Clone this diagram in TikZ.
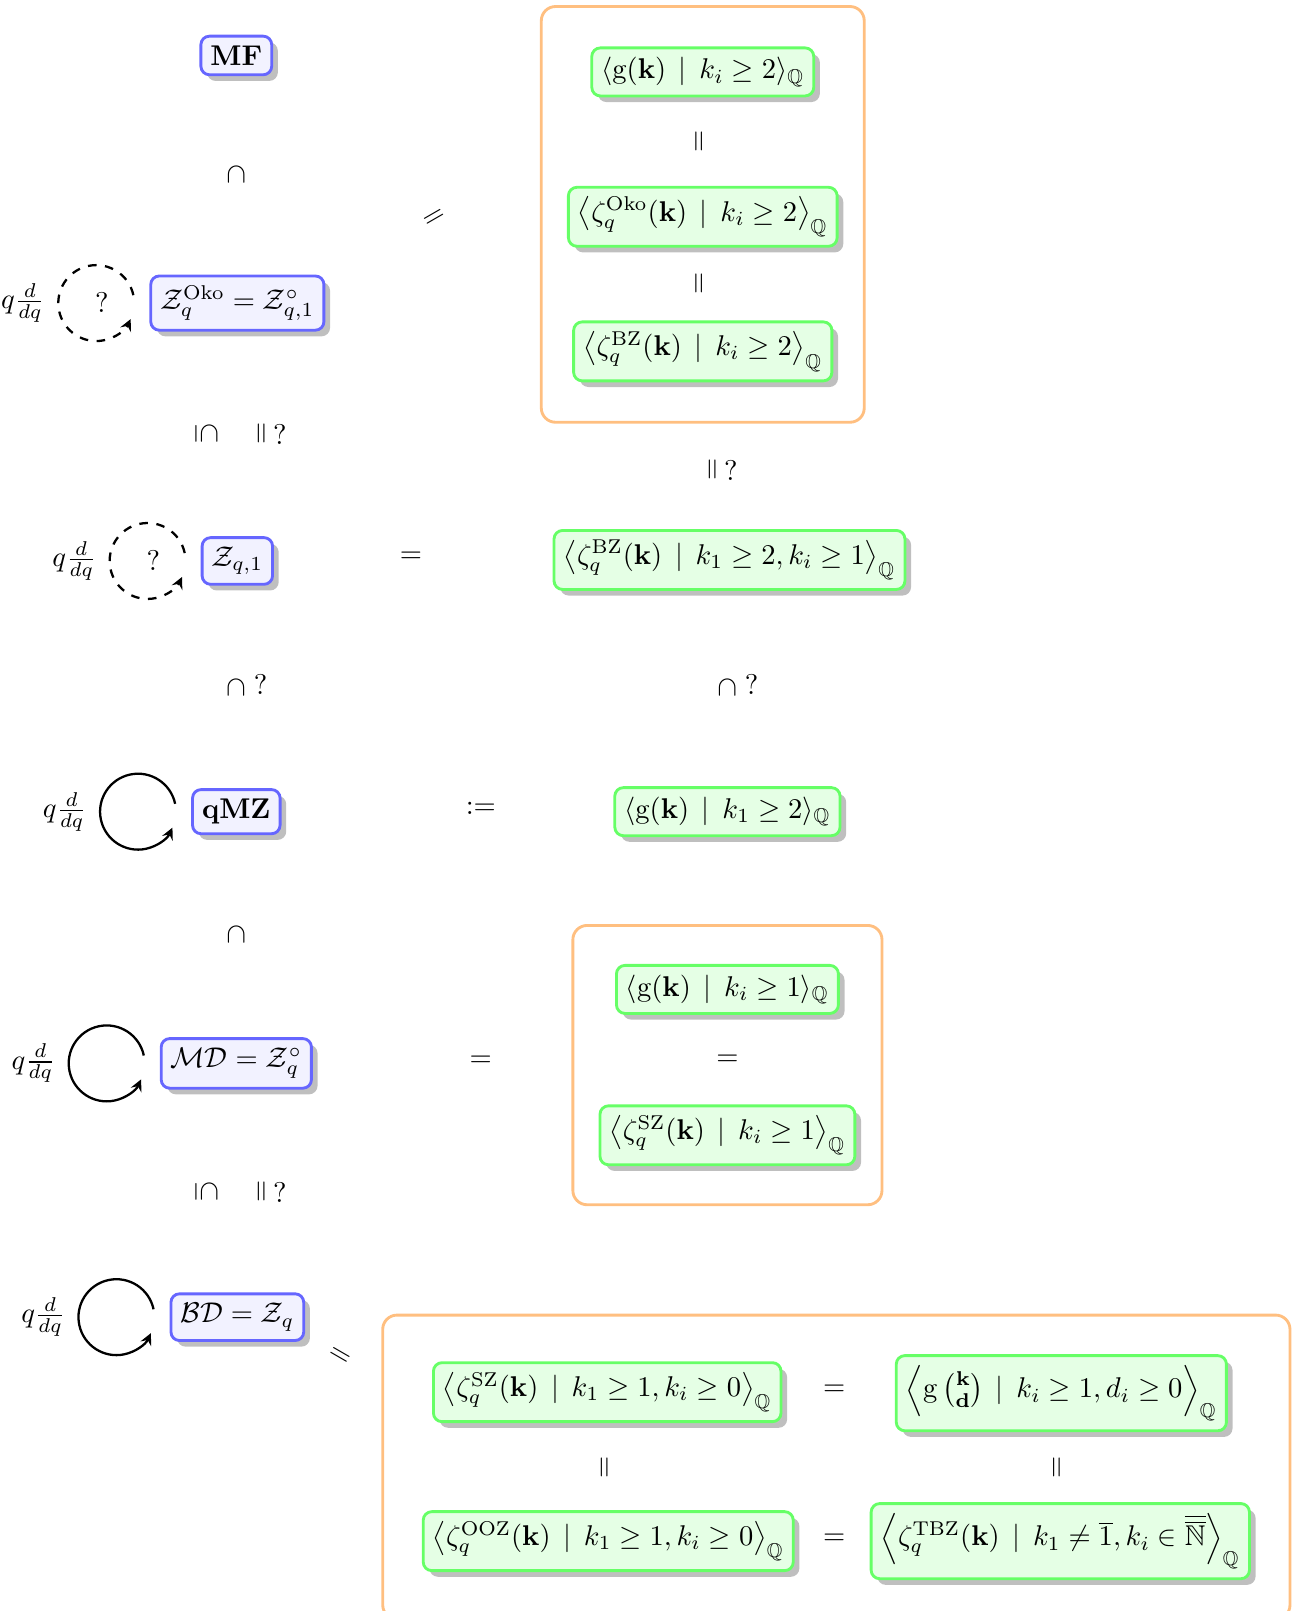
\documentclass[tikz,border=0pt]{standalone}
\usepackage{amsmath,amssymb}
\usepackage{graphicx}
\usepackage{tikz}
\usetikzlibrary{arrows,positioning,shadows,fit}

\newcommand{\capdown}{\rotatebox[origin=c]{-90}{$\subset$}}
\newcommand{\capeqdown}{\rotatebox[origin=c]{-90}{$\subseteq$}}
\newcommand{\equp}{\rotatebox{90}{$=$}}

\begin{document}
\begin{tikzpicture}[x=0.36pt,y=-0.36pt]

\tikzset{space/.style={draw=blue!60,fill=blue!5,line width=1pt,rounded corners=3pt,drop shadow},
         gen/.style={draw=green!60,fill=green!10,line width=1pt,rounded corners=3pt,drop shadow},
         group/.style={draw=orange!50,line width=1pt,rounded corners=5pt},
         turn/.style={thick,-stealth}}

\useasboundingbox (0,0) rectangle (1260,1568);

% the spaces
\node[space] (mf) at (230,54) {$\mathbf{MF}$};
\node[space] (zoko) at (231,295) {$\mathcal{Z}_q^{\mathrm{Oko}} = \mathcal{Z}_{q,1}^{\circ}$};
\node[space] (zqone) at (231,546) {$\mathcal{Z}_{q,1}$};
\node[space] (qmz) at (230,790) {$\mathbf{qMZ}$};
\node[space] (md) at (230,1035) {$\mathcal{MD} = \mathcal{Z}_q^{\circ}$};
\node[space] (bd) at (231,1282) {$\mathcal{BD} = \mathcal{Z}_q$};

\node (incl1) at (230,170) {$\capdown$};
\node (incl2) at (201,422) {$\capeqdown$};
\node (eq2) at (265,422) {$\equp\,?$};
\node (incl3) at (241,668) {$\capdown$ ?};
\node (incl4) at (230,910) {$\capdown$};
\node (incl5) at (201,1160) {$\capeqdown$};
\node (eq5) at (265,1160) {$\equp\,?$};

% q d/dq loops
\foreach \s/\c/\st in {zoko/c2/dashed,zqone/c3/dashed,qmz/c4/solid,md/c5/solid,bd/c6/solid}{
  \coordinate (\c) at ([xshift=-18.6pt]\s.west);
  \draw[turn,\st] ([shift={(12:13.3pt)}]\c) arc[start angle=12,end angle=335,radius=13.3pt];
  \node[anchor=east] (d\c) at ([xshift=-14.5pt]\c) {$q\frac{d}{dq}$};
}
\node (q2) at ([xshift=2pt]c2) {$?$};
\node (q3) at ([xshift=2pt]c3) {$?$};

% generators, top group
\node[gen] (gkitwo) at (684,70) {$\langle \mathrm{g}(\mathbf{k}) \,\mid\, k_i \geq 2\rangle_{\mathbb{Q}}$};
\node (v1) at (682,138) {$\equp$};
\node[gen] (okoz) at (684,211) {$\left\langle \zeta_q^{\mathrm{Oko}}(\mathbf{k}) \,\mid\, k_i \geq 2\right\rangle_{\mathbb{Q}}$};
\node (v2) at (682,276) {$\equp$};
\node[gen] (bzz) at (684,342) {$\left\langle \zeta_q^{\mathrm{BZ}}(\mathbf{k}) \,\mid\, k_i \geq 2\right\rangle_{\mathbb{Q}}$};
\node[group,inner xsep=9pt,inner ysep=14pt,fit=(gkitwo)(okoz)(bzz)] (top) {};
\node[rotate=30] (s1) at (423,213) {$=$};

\node (v3) at (704,457) {$\equp\,?$};
\node (eq3) at (400,542) {$=$};
\node[gen] (bzone) at (710,545) {$\left\langle \zeta_q^{\mathrm{BZ}}(\mathbf{k}) \,\mid\, k_1 \geq 2, k_i \geq 1\right\rangle_{\mathbb{Q}}$};
\node (incl6) at (719,668) {$\capdown$ ?};
\node (def4) at (468,787) {$:=$};
\node[gen] (gkone) at (708,790) {$\langle \mathrm{g}(\mathbf{k}) \,\mid\, k_1 \geq 2\rangle_{\mathbb{Q}}$};

% middle group
\node (eq5r) at (468,1033) {$=$};
\node[gen] (gkione) at (708,963) {$\langle \mathrm{g}(\mathbf{k}) \,\mid\, k_i \geq 1\rangle_{\mathbb{Q}}$};
\node (v4) at (708,1032) {$=$};
\node[gen] (szone) at (708,1105) {$\left\langle \zeta_q^{\mathrm{SZ}}(\mathbf{k}) \,\mid\, k_i \geq 1\right\rangle_{\mathbb{Q}}$};
\node[group,inner xsep=9pt,inner ysep=13.5pt,fit=(gkione)(szone)] (mid) {};

% bottom group
\node[rotate=-30] (s2) at (330,1320) {$=$};
\node[gen] (szzero) at (591,1355) {$\left\langle \zeta_q^{\mathrm{SZ}}(\mathbf{k}) \,\mid\, k_1 \geq 1, k_i \geq 0\right\rangle_{\mathbb{Q}}$};
\node (h1) at (812,1353) {$=$};
\node[gen] (gkd) at (1033,1356) {$\left\langle \mathrm{g}\,\tbinom{\mathbf{k}}{\mathbf{d}} \,\mid\, k_i \geq 1, d_i \geq 0\right\rangle_{\mathbb{Q}}$};
\node (v5) at (590,1428) {$\equp$};
\node (v6) at (1030,1428) {$\equp$};
\node[gen] (ooz) at (592,1500) {$\left\langle \zeta_q^{\mathrm{OOZ}}(\mathbf{k}) \,\mid\, k_1 \geq 1, k_i \geq 0\right\rangle_{\mathbb{Q}}$};
\node (h2) at (812,1498) {$=$};
\node[gen] (tbz) at (1032,1500) {$\left\langle \zeta_q^{\mathrm{TBZ}}(\mathbf{k}) \,\mid\, k_1 \neq \overline{1}, k_i \in \overline{\overline{\mathbb{N}}}\right\rangle_{\mathbb{Q}}$};
\node[group,inner sep=13.7pt,fit=(szzero)(gkd)(ooz)(tbz)] (bot) {};

\end{tikzpicture}
\end{document}
